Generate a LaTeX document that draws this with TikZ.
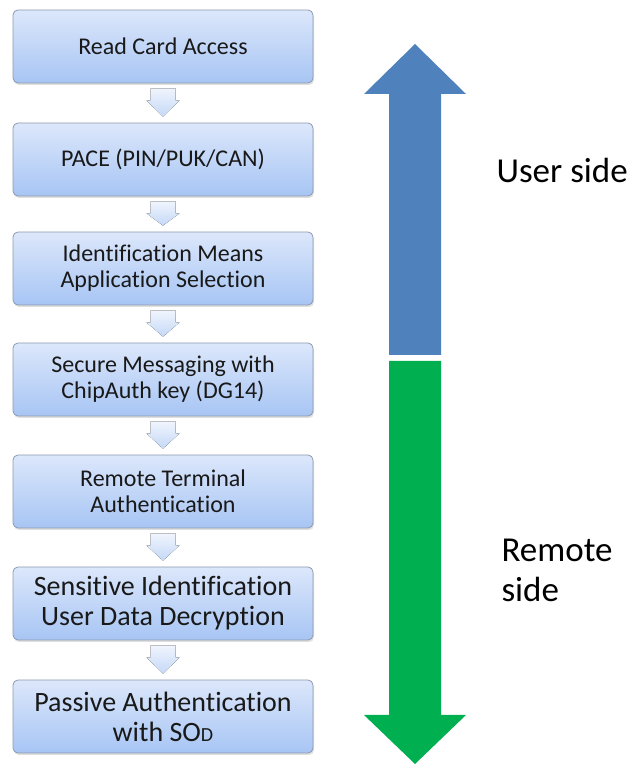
\documentclass[tikz,border=0pt]{standalone}
\usepackage{fontspec}
\setmainfont[Ligatures=NoCommon]{Carlito}
\usetikzlibrary{calc,shadows}

\definecolor{boxtop}{HTML}{DCE7FB}
\definecolor{boxbottom}{HTML}{A7C5F4}
\definecolor{boxline}{HTML}{8E9AAE}
\definecolor{steptop}{HTML}{F0F5FD}
\definecolor{stepbottom}{HTML}{C4D8F7}
\definecolor{usercol}{HTML}{4F81BD}
\definecolor{remotecol}{HTML}{00B050}

\tikzset{
    stage/.style={draw=boxline, line width=0.8pt, rounded corners=5pt,
        top color=boxtop, bottom color=boxbottom,
        minimum width=300pt, minimum height=73pt, align=center,
        font=\fontsize{24}{26}\selectfont, text=black!90,
        drop shadow={opacity=0.25, shadow xshift=1pt, shadow yshift=-2pt}},
    bigstage/.style={stage, font=\fontsize{28}{30}\selectfont},
    side/.style={anchor=west, align=left, font=\fontsize{35}{40}\selectfont},
}

\begin{document}
\begin{tikzpicture}[x=1pt, y=1pt]
        \useasboundingbox (0, 0) rectangle (633, 765);

        \node[stage] (read) at (163, 718.5) {Read Card Access};
        \node[stage] (pace) at (163, 605.5) {PACE (PIN/PUK/CAN)};
        \node[stage] (select) at (163, 496.5) {Identification Means\\Application Selection};
        \node[stage] (secure) at (163, 385.5) {Secure Messaging with\\ChipAuth key (DG14)};
        \node[stage] (terminal) at (163, 273.5) {Remote Terminal\\Authentication};
        \node[bigstage] (decrypt) at (163, 161.5) {Sensitive Identification\\User Data Decryption};
        \node[bigstage] (passive) at (163, 48.5) {Passive Authentication\\with SO{\fontsize{20}{26}\selectfont D}};

        \foreach \a/\b in {read/pace, pace/select, select/secure, secure/terminal, terminal/decrypt, decrypt/passive} {
            \fill[top color=steptop, bottom color=stepbottom]
                ($(\a.south)+(-12.5,-5)$) -- ($(\a.south)+(-12.5,-17)$) -- ($(\a.south)+(-16.5,-17)$)
                -- ($(\b.north)+(0,6)$)
                -- ($(\a.south)+(16.5,-17)$) -- ($(\a.south)+(12.5,-17)$) -- ($(\a.south)+(12.5,-5)$) -- cycle;
        }

        \fill[usercol] (389, 410) -- (389, 671) -- (364, 671) -- (415, 721) -- (466, 671) -- (441, 671) -- (441, 410) -- cycle;
        \fill[remotecol] (389, 404) -- (441, 404) -- (441, 50) -- (466, 50) -- (415, 1) -- (364, 50) -- (389, 50) -- cycle;

        \node[side] (user) at (493, 595) {User side};
        \node[side] (remote) at (498, 195) {Remote\\side};
    \end{tikzpicture}
\end{document}
